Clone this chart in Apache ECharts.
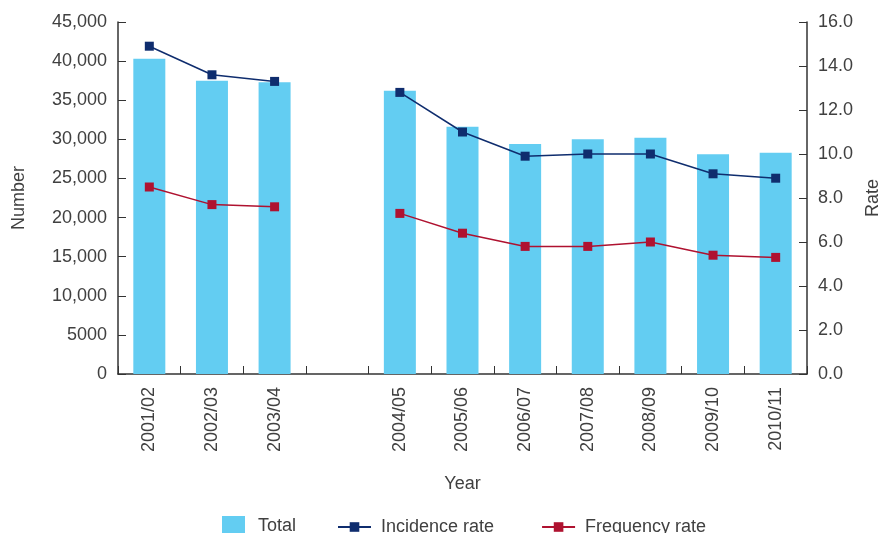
<!DOCTYPE html>
<html>
<head>
<meta charset="utf-8">
<script src="https://cdn.jsdelivr.net/npm/echarts@6/dist/echarts.min.js"></script>
<style>
  html, body { margin: 0; padding: 0; background: #fff; }
  #chart { width: 879px; height: 533px; }
</style>
</head>
<body>
<div id="chart"></div>
<script>
// empty slot between 2003/04 and 2004/05 is kept as a gap
var years = ['2001/02', '2002/03', '2003/04', '', '2004/05', '2005/06', '2006/07', '2007/08', '2008/09', '2009/10', '2010/11']
var totalData = [40300, 37500, 37300, '-', 36200, 31600, 29400, 30000, 30200, 28100, 28300]
var incidenceData = [14.9, 13.6, 13.3, '-', 12.8, 11.0, 9.9, 10.0, 10.0, 9.1, 8.9]
var frequencyData = [8.5, 7.7, 7.6, '-', 7.3, 6.4, 5.8, 5.8, 6.0, 5.4, 5.3]

var numberTicks = { min: 0, max: 45000, interval: 5000 }
var rateTicks = { min: 0, max: 16, interval: 2 }

var FONT = 'Liberation Sans'
var TXT = '#404040'
var FS = 18

function fmtNumber(v) {
    if (v < 10000) return String(v)
    return String(v).replace(/\B(?=(\d{3})+(?!\d))/g, ',')
}

var myChart = echarts.init(document.getElementById('chart'))
var option = {
    animation: false,
    textStyle: { fontFamily: FONT, color: TXT },
    grid: { left: 118, right: 72, top: 22, bottom: 159, outerBoundsMode: 'none', containLabel: false },
    legend: [
        {
            left: 222,
            top: 516,
            padding: 0,
            itemWidth: 23,
            itemHeight: 20,
            textStyle: { fontSize: FS, color: TXT, fontFamily: FONT, padding: [0, 0, 0, 8] },
            data: [{ name: 'Total', icon: 'rect' }],
        },
        {
            left: 337,
            top: 518,
            padding: 0,
            itemWidth: 33,
            itemHeight: 12,
            itemGap: 47,
            textStyle: { fontSize: FS, color: TXT, fontFamily: FONT, padding: [0, 0, 0, 5] },
            data: ['Incidence rate', 'Frequency rate'],
        },
    ],
    xAxis: {
        type: 'category',
        data: years,
        name: 'Year',
        nameLocation: 'middle',
        nameGap: 101,
        nameTextStyle: { fontSize: FS, color: TXT },
        axisLine: { lineStyle: { color: '#333', width: 1.5 } },
        axisTick: { show: true, inside: true, length: 8, interval: 0, lineStyle: { color: '#333', width: 1 } },
        axisLabel: { rotate: 90, interval: 0, fontSize: FS, color: TXT, margin: 13 },
    },
    yAxis: [
        {
            type: 'value',
            min: numberTicks.min,
            max: numberTicks.max,
            interval: numberTicks.interval,
            name: 'Number',
            nameLocation: 'middle',
            nameRotate: 90,
            nameGap: 90,
            nameTextStyle: { fontSize: FS, color: TXT },
            splitLine: { show: false },
            axisLine: { show: true, lineStyle: { color: '#333', width: 1.5 } },
            axisTick: { show: true, inside: true, length: 8, lineStyle: { color: '#333' } },
            axisLabel: { fontSize: FS, color: TXT, margin: 11, formatter: fmtNumber },
        },
        {
            type: 'value',
            position: 'right',
            min: rateTicks.min,
            max: rateTicks.max,
            interval: rateTicks.interval,
            name: 'Rate',
            nameLocation: 'middle',
            nameRotate: 90,
            nameGap: 57,
            nameTextStyle: { fontSize: FS, color: TXT, verticalAlign: 'top' },
            splitLine: { show: false },
            axisLine: { show: true, lineStyle: { color: '#333', width: 1.5 } },
            axisTick: { show: true, inside: true, length: 8, lineStyle: { color: '#333' } },
            axisLabel: { fontSize: FS, color: TXT, margin: 11, formatter: function (v) { return v.toFixed(1) } },
        },
    ],
    series: [
        {
            name: 'Total',
            type: 'bar',
            barWidth: 32,
            itemStyle: { color: '#63cdf2' },
            data: totalData,
        },
        {
            name: 'Incidence rate',
            type: 'line',
            yAxisIndex: 1,
            symbol: 'rect',
            symbolSize: 9,
            connectNulls: false,
            lineStyle: { color: '#0f2d6e', width: 1.5 },
            itemStyle: { color: '#0f2d6e' },
            data: incidenceData,
        },
        {
            name: 'Frequency rate',
            type: 'line',
            yAxisIndex: 1,
            symbol: 'rect',
            symbolSize: 9,
            connectNulls: false,
            lineStyle: { color: '#af1230', width: 1.5 },
            itemStyle: { color: '#af1230' },
            data: frequencyData,
        },
    ],
}
myChart.setOption(option)
</script>
</body>
</html>
